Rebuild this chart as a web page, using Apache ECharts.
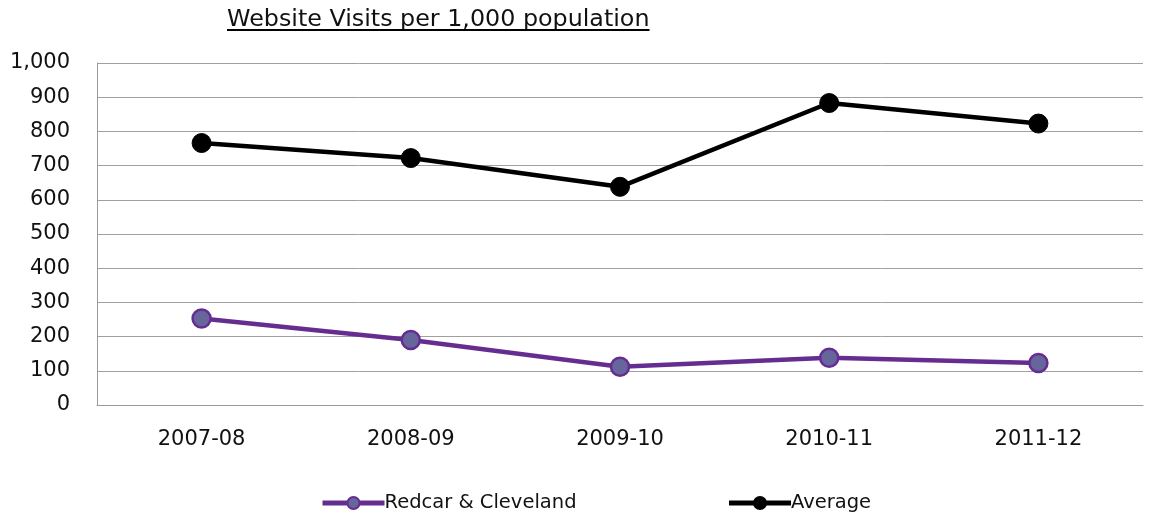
<!DOCTYPE html>
<html><head><meta charset="utf-8">
<script src="https://cdn.jsdelivr.net/npm/echarts@6/dist/echarts.min.js"></script>
<style>html,body{margin:0;padding:0;background:#fff}#c{width:1152px;height:516px}</style>
</head><body><div id="c"></div>
<script>
const categories = ['2007-08','2008-09','2009-10','2010-11','2011-12'];
const redcar = [253, 190, 112, 138, 123];
const average = [766, 722, 638, 883, 823];
const yTicks = {min:0, max:1000, interval:100};
const titleText = 'Website Visits per 1,000 population';
const FONT = 'DejaVu Sans';
const TITLE_SIZE = 23.8;
const cv = document.createElement('canvas').getContext('2d');
cv.font = TITLE_SIZE + 'px "' + FONT + '"';
const tw = cv.measureText(titleText).width;
const chart = echarts.init(document.getElementById('c'));
chart.setOption({
  animation:false,
  graphic:[
    {type:'text', left:227, top:8, style:{text:titleText, font:TITLE_SIZE+'px "'+FONT+'"', fill:'#111'}},
    {type:'line', shape:{x1:227,y1:30,x2:227+tw,y2:30}, style:{stroke:'#000', lineWidth:2}}
  ],
  grid:{left:97, right:9, top:63, bottom:111},
  legend:{left:315, top:488, itemWidth:62, itemHeight:15, itemGap:150,
    textStyle:{fontFamily:FONT, fontSize:19.5, color:'#111', padding:[0,0,0,-5]},
    data:[
      {name:'Redcar & Cleveland', lineStyle:{width:5, color:'#662d91'}},
      {name:'Average', lineStyle:{width:5, color:'#000'}}
    ]},
  xAxis:{type:'category', data:categories, boundaryGap:true,
    axisLine:{lineStyle:{color:'#9a9a9a', width:1}}, axisTick:{show:false},
    axisLabel:{fontFamily:FONT, fontSize:21, color:'#111', margin:24}},
  yAxis:{type:'value', min:yTicks.min, max:yTicks.max, interval:yTicks.interval,
    axisLine:{show:true, lineStyle:{color:'#9a9a9a'}}, axisTick:{show:false},
    splitLine:{lineStyle:{color:'#a0a0a0', width:1}},
    axisLabel:{fontFamily:FONT, fontSize:21, color:'#111', margin:27,
      formatter:v=>v.toLocaleString('en-US')}},
  series:[
    {name:'Redcar & Cleveland', type:'line', data:redcar, symbol:'circle', symbolSize:18,
     lineStyle:{color:'#662d91', width:4.5},
     itemStyle:{color:'#66669c', borderColor:'#662d91', borderWidth:2.5}},
    {name:'Average', type:'line', data:average, symbol:'circle', symbolSize:19,
     lineStyle:{color:'#000', width:4.5},
     itemStyle:{color:'#000', borderColor:'#000', borderWidth:1}}
  ]
});
</script></body></html>
